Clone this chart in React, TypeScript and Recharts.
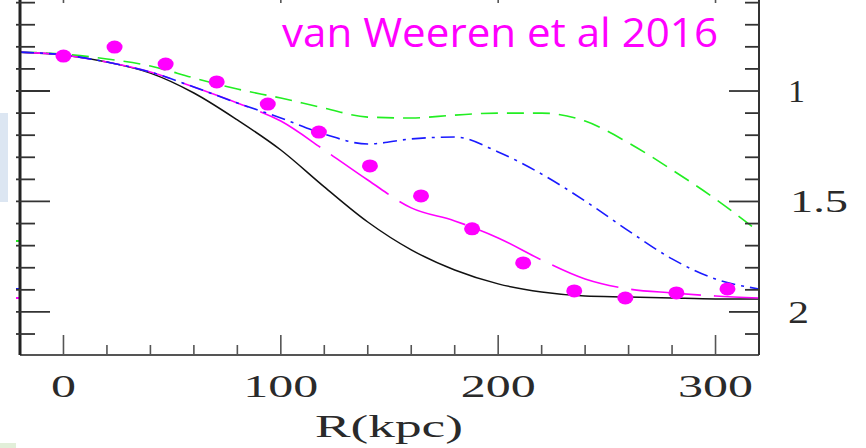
import React from 'react';
import { ComposedChart, Line, Scatter, XAxis, YAxis } from 'recharts';

// model curves, sampled every 20 kpc
const radius = [-20, 0, 20, 40, 60, 80, 100, 120, 140, 160, 180, 200, 220, 240, 260, 280, 300, 320];
const solidModel = [0.824, 0.837, 0.869, 0.919, 1.009, 1.131, 1.267, 1.434, 1.593, 1.719, 1.81, 1.873, 1.91, 1.928, 1.932, 1.937, 1.941, 1.941];
const dashDotModel = [0.824, 0.837, 0.869, 0.914, 0.982, 1.054, 1.122, 1.195, 1.24, 1.217, 1.208, 1.276, 1.376, 1.498, 1.633, 1.76, 1.851, 1.896];
const longDashModel = [0.824, 0.837, 0.869, 0.914, 0.982, 1.054, 1.136, 1.267, 1.403, 1.529, 1.588, 1.665, 1.765, 1.851, 1.896, 1.914, 1.928, 1.937];
const shortDashModel = [0.824, 0.833, 0.855, 0.887, 0.941, 0.991, 1.032, 1.077, 1.118, 1.122, 1.109, 1.1, 1.1, 1.136, 1.235, 1.357, 1.489, 1.638];

// measured profile
const pointR = [0, 23.5, 47, 70.5, 94, 117.5, 141, 164.5, 188, 211.5, 235, 258.5, 282, 305.5];
const pointValue = [0.842, 0.801, 0.878, 0.959, 1.059, 1.186, 1.339, 1.475, 1.624, 1.778, 1.905, 1.937, 1.914, 1.896];

const xTicks = [0, 20, 40, 60, 80, 100, 120, 140, 160, 180, 200, 220, 240, 260, 280, 300];
const xLabels = [0, 100, 200, 300];
const yTicks = [0.6, 0.7, 0.8, 0.9, 1, 1.1, 1.2, 1.3, 1.4, 1.5, 1.6, 1.7, 1.8, 1.9, 2, 2.1];
const yLabels = [1, 1.5, 2];

const title = 'van Weeren et al 2016';
const xTitle = 'R(kpc)';

const curves = radius.map((r, i) => ({
  r,
  solid: solidModel[i],
  dashDot: dashDotModel[i],
  longDash: longDashModel[i],
  shortDash: shortDashModel[i],
}));
const points = pointR.map((r, i) => ({ r, value: pointValue[i] }));

const W = 866;
const H = 448;
const LEFT = 20;
const RIGHT = 759;
const BOTTOM = 355;
const labelFont = '"Liberation Serif", serif';
const labelColor = '#2a2a2a';

const isLabel = (list: number[], v: number) => list.some((l) => Math.abs(l - v) < 1e-6);

// bottom ticks point up into the frame; majors also get the stub of the top axis
const BottomTick = ({ x, payload }: any) => {
  const major = isLabel(xLabels, payload.value);
  const label = String(payload.value);
  return (
    <g>
      <line x1={x} x2={x} y1={BOTTOM} y2={major ? BOTTOM - 20 : BOTTOM - 10} stroke="#555" strokeWidth={1.6} />
      {major && <line x1={x} x2={x} y1={0} y2={3} stroke="#555" strokeWidth={1.6} />}
      {major && (
        <text
          x={x}
          y={397}
          textAnchor="middle"
          textLength={label.length * 25}
          lengthAdjust="spacingAndGlyphs"
          fontFamily={labelFont}
          fontSize={31}
          fill={labelColor}
        >
          {label}
        </text>
      )}
    </g>
  );
};

const LeftTick = ({ y, payload }: any) => {
  const major = isLabel(yLabels, payload.value);
  return (
    <line x1={16} x2={major ? 50 : 35} y1={y} y2={y} stroke="#333" strokeWidth={1.8} />
  );
};

const RightTick = ({ y, payload }: any) => {
  const major = isLabel(yLabels, payload.value);
  const label = String(payload.value);
  return (
    <g>
      <line x1={major ? RIGHT - 30 : RIGHT - 14} x2={RIGHT} y1={y} y2={y} stroke="#333" strokeWidth={1.8} />
      {major && (
        <text
          x={label.length > 1 ? 790 : 788}
          y={y + 11}
          textLength={label.length > 1 ? 58 : label === '1' ? 17 : 21}
          lengthAdjust="spacingAndGlyphs"
          fontFamily={labelFont}
          fontSize={31}
          fill={labelColor}
        >
          {label}
        </text>
      )}
    </g>
  );
};

const Dot = ({ cx, cy }: any) => <ellipse cx={cx} cy={cy} rx={8} ry={6.5} fill="#ff00ff" />;

export default function App() {
  return (
    <div style={{ position: 'absolute', left: 0, top: 0, width: W, height: H, background: '#fff', overflow: 'hidden' }}>
      {/* slide leftovers around the figure */}
      <div style={{ position: 'absolute', left: 0, top: 113, width: 8, height: 89, background: '#dce6f2' }} />
      <div style={{ position: 'absolute', left: 0, top: 443, width: 16, height: 5, background: '#e2efd9' }} />
      <div style={{ position: 'absolute', left: 16, top: 240, width: 4, height: 2, background: '#22ee22' }} />
      <div style={{ position: 'absolute', left: 16, top: 288, width: 4, height: 2, background: '#1a1aff' }} />
      <div style={{ position: 'absolute', left: 16, top: 297, width: 4, height: 2, background: '#ff00ff' }} />

      <ComposedChart
        width={W}
        height={H}
        data={curves}
        margin={{ top: 0, right: W - RIGHT - 1, bottom: H - BOTTOM - 1, left: LEFT - 1 }}
        style={{ position: 'absolute', left: 0, top: 0 }}
      >
        <XAxis
          dataKey="r"
          type="number"
          domain={[-20, 320]}
          allowDataOverflow
          ticks={xTicks}
          interval={0}
          height={1}
          tickLine={false}
          axisLine={{ stroke: '#555', strokeWidth: 2 }}
          tick={<BottomTick />}
        />
        <YAxis
          yAxisId="left"
          type="number"
          domain={[0.588, 2.195]}
          reversed
          allowDataOverflow
          ticks={yTicks}
          interval={0}
          width={1}
          tickLine={false}
          axisLine={{ stroke: '#222', strokeWidth: 3 }}
          tick={<LeftTick />}
        />
        <YAxis
          yAxisId="right"
          orientation="right"
          type="number"
          domain={[0.588, 2.195]}
          reversed
          allowDataOverflow
          ticks={yTicks}
          interval={0}
          width={1}
          tickLine={false}
          axisLine={{ stroke: '#333', strokeWidth: 2 }}
          tick={<RightTick />}
        />
        <Line yAxisId="left" type="monotone" dataKey="solid" stroke="#111" strokeWidth={1.5} dot={false} isAnimationActive={false} />
        <Line yAxisId="left" type="monotone" dataKey="shortDash" stroke="#22ee22" strokeWidth={1.6} strokeDasharray="17 9" dot={false} isAnimationActive={false} />
        <Line yAxisId="left" type="monotone" dataKey="longDash" stroke="#ff00ff" strokeWidth={1.6} strokeDasharray="70 13" dot={false} isAnimationActive={false} />
        <Line yAxisId="left" type="monotone" dataKey="dashDot" stroke="#1a1aff" strokeWidth={1.6} strokeDasharray="14 6 3 6" dot={false} isAnimationActive={false} />
        <Scatter yAxisId="left" data={points} dataKey="value" shape={<Dot />} isAnimationActive={false} />
      </ComposedChart>

      <svg width={W} height={H} style={{ position: 'absolute', left: 0, top: 0, pointerEvents: 'none' }}>
        <text
          x={282}
          y={47}
          textLength={436}
          lengthAdjust="spacingAndGlyphs"
          fontFamily='"Open Sans", sans-serif'
          fontSize={41}
          fill="#ff00ff"
        >
          {title}
        </text>
        <text
          x={389}
          y={437}
          textAnchor="middle"
          textLength={148}
          lengthAdjust="spacingAndGlyphs"
          fontFamily={labelFont}
          fontSize={31}
          fill={labelColor}
        >
          {xTitle}
        </text>
      </svg>
    </div>
  );
}
